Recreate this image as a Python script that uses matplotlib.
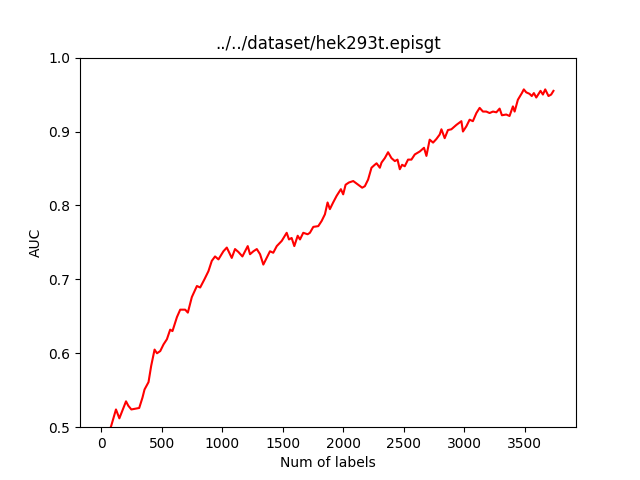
import numpy as np
import matplotlib
matplotlib.use('Agg')
import matplotlib.pyplot as plt

# データ
num_labels = [10, 50, 82, 121, 149, 204, 223, 248, 280, 313, 340, 357, 390, 412, 440, 460, 487, 514, 542,
              569, 588, 625, 652, 693, 715, 748, 790, 817, 852, 885, 913, 940, 968, 1009, 1037, 1078, 1105,
              1133, 1166, 1188, 1210, 1229, 1257, 1285, 1312, 1339, 1367, 1394, 1421, 1450, 1491, 1532, 1551,
              1573, 1595, 1623, 1642, 1669, 1705, 1724, 1752, 1793, 1821, 1848, 1870, 1889, 1916, 1945, 1980,
              1999, 2019, 2046, 2082, 2123, 2156, 2178, 2205, 2233, 2260, 2275, 2302, 2316, 2343, 2370, 2398,
              2426, 2448, 2467, 2486, 2508, 2535, 2563, 2591, 2632, 2667, 2687, 2714, 2742, 2770, 2797, 2811,
              2838, 2865, 2893, 2921, 2935, 2976, 2989, 3017, 3044, 3071, 3100, 3127, 3154, 3182, 3209, 3237,
              3265, 3292, 3311, 3347, 3374, 3402, 3416, 3443, 3476, 3492, 3512, 3539, 3558, 3575, 3595, 3630,
              3650, 3669, 3696, 3718, 3737]
auc = [0.470, 0.488, 0.502, 0.524, 0.512, 0.535, 0.529, 0.524, 0.525, 0.526, 0.540, 0.551, 0.561, 0.583,
       0.605, 0.600, 0.603, 0.612, 0.619, 0.632, 0.630, 0.649, 0.659, 0.659, 0.655, 0.676, 0.691, 0.689,
       0.700, 0.711, 0.725, 0.731, 0.727, 0.738, 0.743, 0.729, 0.741, 0.737, 0.731, 0.738, 0.745, 0.734,
       0.738, 0.741, 0.734, 0.720, 0.729, 0.738, 0.736, 0.745, 0.752, 0.763, 0.754, 0.756, 0.745, 0.759,
       0.754, 0.763, 0.761, 0.763, 0.771, 0.772, 0.779, 0.788, 0.804, 0.795, 0.804, 0.813, 0.822, 0.815,
       0.828, 0.831, 0.833, 0.828, 0.824, 0.826, 0.835, 0.851, 0.855, 0.857, 0.851, 0.858, 0.864, 0.872,
       0.864, 0.860, 0.862, 0.849, 0.855, 0.853, 0.862, 0.862, 0.869, 0.873, 0.878, 0.867, 0.889, 0.885,
       0.890, 0.896, 0.903, 0.891, 0.902, 0.903, 0.907, 0.909, 0.914, 0.900, 0.907, 0.916, 0.914, 0.925,
       0.932, 0.927, 0.927, 0.925, 0.927, 0.926, 0.931, 0.922, 0.923, 0.921, 0.934, 0.927, 0.943, 0.952,
       0.957, 0.953, 0.951, 0.948, 0.952, 0.946, 0.955, 0.950, 0.957, 0.948, 0.950, 0.955]

dataset_name = "../../dataset/hek293t.episgt"

fig, ax = plt.subplots(figsize=(6.4, 4.8), dpi=100)
ax.plot(num_labels, auc, color='red')
ax.set_ylim(0.5, 1.0)
ax.set_title(dataset_name)
ax.set_xlabel("Num of labels")
ax.set_ylabel("AUC")

plt.savefig("out.png")
